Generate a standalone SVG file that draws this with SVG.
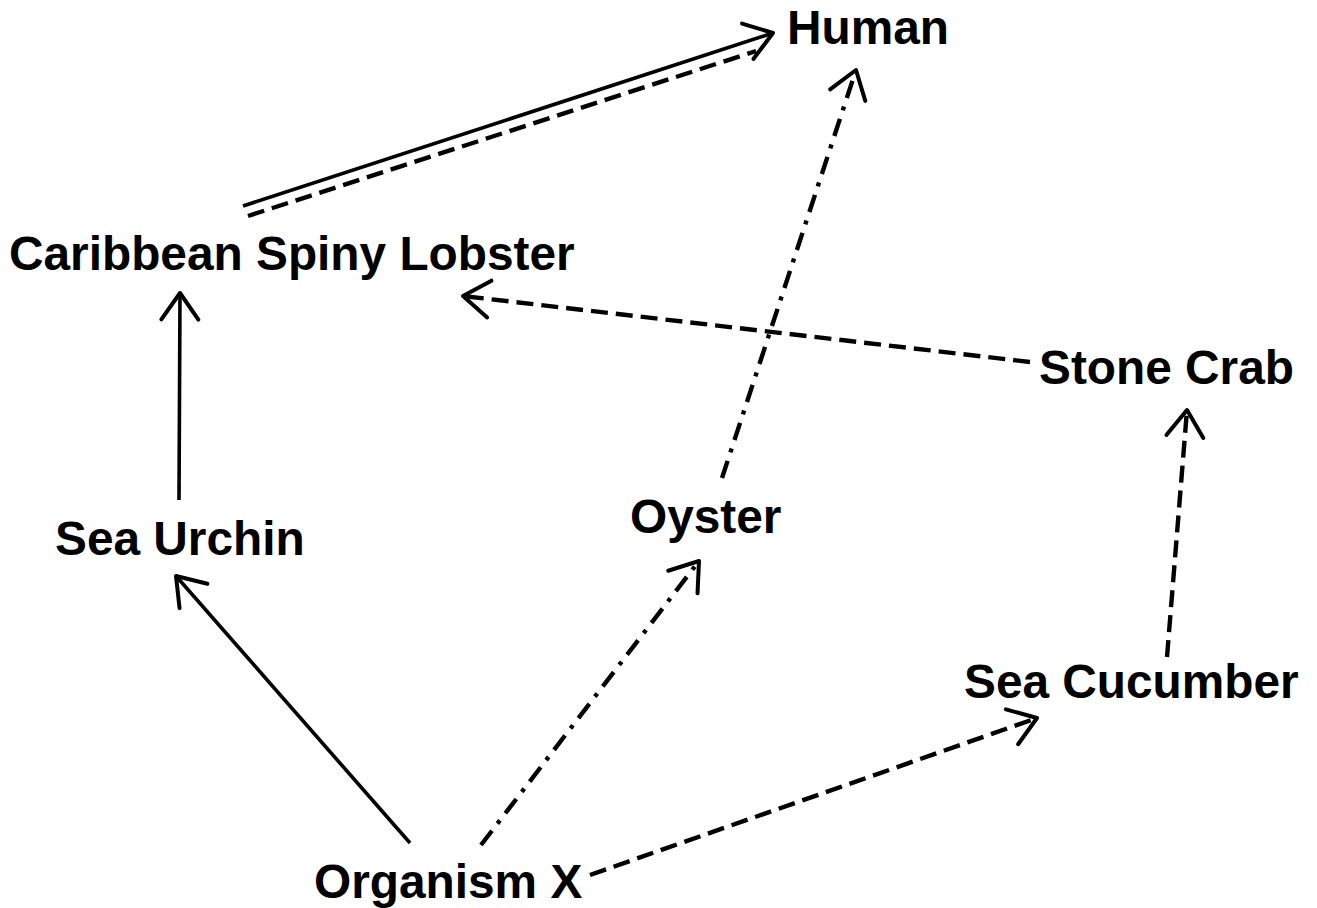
<svg xmlns="http://www.w3.org/2000/svg" width="1317" height="908" viewBox="0 0 1317 908">
<style>
.lbl{font-family:"Liberation Sans",Arial,sans-serif;font-weight:bold;font-size:47.8px;fill:#000}
.e{fill:none;stroke:#000;stroke-width:3.6}
.solid{}
.dash{stroke-width:4.4;stroke-dasharray:17 8}
.dd{stroke-width:4.4;stroke-dasharray:18 9 4 9}
</style>
<defs>
<marker id="ah" markerUnits="userSpaceOnUse" orient="auto" refX="0" refY="0" markerWidth="60" markerHeight="60" viewBox="-40 -30 60 60" overflow="visible">
<path d="M-26.5,-18.5 L0,0 L-26.5,18.5" fill="none" stroke="#000" stroke-width="4" stroke-linecap="round" stroke-linejoin="round"/>
</marker>
</defs>
<rect width="1317" height="908" fill="#fff"/>
<g id="connectors">
<line class="e solid" x1="243" y1="206" x2="773" y2="33" marker-end="url(#ah)"/>
<line class="e dash" x1="248" y1="216" x2="756" y2="51"/>
<line class="e dd" x1="722" y1="478" x2="856" y2="70" marker-end="url(#ah)"/>
<line class="e dash" x1="1030" y1="362" x2="463" y2="296" marker-end="url(#ah)"/>
<line class="e solid" x1="179" y1="500" x2="180" y2="293" marker-end="url(#ah)"/>
<line class="e solid" x1="410" y1="843" x2="176" y2="576" marker-end="url(#ah)"/>
<line class="e dd" x1="481" y1="845" x2="699" y2="561" marker-end="url(#ah)"/>
<line class="e dash" x1="590" y1="875" x2="1037" y2="718" marker-end="url(#ah)"/>
<line class="e dash" x1="1167" y1="657" x2="1187" y2="410" marker-end="url(#ah)"/>
</g>
<g id="human"><text class="lbl" x="787" y="44">Human</text></g>
<g id="lobster"><text class="lbl" x="9" y="270">Caribbean Spiny Lobster</text></g>
<g id="stonecrab"><text class="lbl" x="1039" y="384">Stone Crab</text></g>
<g id="seaurchin"><text class="lbl" x="55" y="555">Sea Urchin</text></g>
<g id="oyster"><text class="lbl" x="630" y="533">Oyster</text></g>
<g id="seacucumber"><text class="lbl" x="964" y="698">Sea Cucumber</text></g>
<g id="organismx"><text class="lbl" x="314" y="898">Organism X</text></g>
</svg>
